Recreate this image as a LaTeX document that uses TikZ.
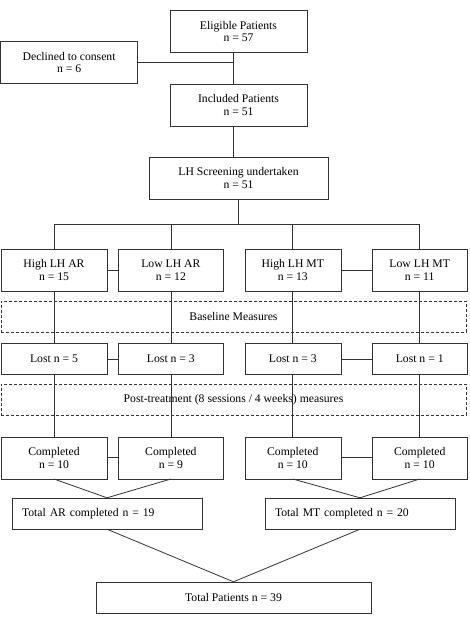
\documentclass[tikz,border=0pt]{standalone}
\usepackage{fontspec}
\setmainfont{Liberation Serif}
\usetikzlibrary{positioning}
\definecolor{FlowLine}{HTML}{333333}

\begin{document}
\begin{tikzpicture}[
    x=1pt, y=1pt,
    font=\fontsize{11.7}{12.7}\selectfont,
    stage/.style={draw=FlowLine, minimum height=42pt, align=center, inner sep=2pt},
    slim/.style={draw=FlowLine, minimum height=31pt, align=center, inner sep=2pt},
    phase/.style={draw=FlowLine, dash pattern=on 3pt off 2pt,
      minimum width=465pt, minimum height=31pt},
    link/.style={draw=FlowLine, line width=0.8pt}
  ]
    \useasboundingbox (0,0) rectangle (470,-618);
    % enrolment
    \node[stage, minimum width=137pt] (eligible) at (238.5,-31.5) {Eligible Patients\\n = 57};
    \node[stage, minimum width=137pt, left=32pt of eligible, yshift=-31pt] (declined) {Declined to consent\\n = 6};
    \node[stage, minimum width=137pt, below=31pt of eligible] (included) {Included Patients\\n = 51};
    \node[stage, minimum width=179pt, below=31pt of included] (screening) {LH Screening undertaken\\n = 51};
    \coordinate[below=25pt of screening] (bus);
    % groups
    \node[stage, minimum width=106pt] (highAR) at (54,-270) {High LH AR\\n = 15};
    \node[stage, minimum width=105pt, right=11pt of highAR] (lowAR) {Low LH AR\\n = 12};
    \node[stage, minimum width=96pt, right=21pt of lowAR] (highMT) {High LH MT\\n = 13};
    \node[stage, minimum width=95pt, right=31pt of highMT] (lowMT) {Low LH MT\\n = 11};
    \node[phase] (baseline) at (233.5,-316.5) {Baseline Measures};
    \node[slim, minimum width=106pt, below=52pt of highAR] (lostHAR) {Lost n = 5};
    \node[slim, minimum width=105pt, below=52pt of lowAR] (lostLAR) {Lost n = 3};
    \node[slim, minimum width=96pt, below=52pt of highMT] (lostHMT) {Lost n = 3};
    \node[slim, minimum width=95pt, below=52pt of lowMT] (lostLMT) {Lost n = 1};
    \node[phase] (posttreat) at (233.5,-399.5) {Post-treatment (8 sessions / 4 weeks) measures};
    \node[stage, minimum width=106pt, below=62pt of lostHAR] (doneHAR) {Completed\\n = 10};
    \node[stage, minimum width=105pt, below=62pt of lostLAR] (doneLAR) {Completed\\n = 9};
    \node[stage, minimum width=96pt, below=62pt of lostHMT] (doneHMT) {Completed\\n = 10};
    \node[stage, minimum width=95pt, below=62pt of lostLMT] (doneLMT) {Completed\\n = 10};
    % totals
    \node[slim, text width=170pt, inner xsep=10pt, align=left] (totalAR) at (107,-513.5) {Total AR completed n = 19};
    \node[slim, text width=170pt, inner xsep=10pt, align=left] (totalMT) at (360,-513.5) {Total MT completed n = 20};
    \node[slim, minimum width=275pt] (totalAll) at (233.5,-597.5) {Total Patients n = 39};
    % connectors
    \draw[link] ([xshift=-5pt]eligible.south) -- ([xshift=-5pt]included.north);
    \draw[link] (declined.east) -- ([xshift=-5pt]eligible.south |- declined.east);
    \draw[link] ([xshift=-5pt]included.south) -- ([xshift=-5pt]screening.north);
    \draw[link, line width=1.6pt] (screening.south) -- (bus);
    \draw[link] (highAR.north |- bus) -- (lowMT.north |- bus);
    \draw[link] (highAR.north) -- (highAR.north |- bus);
    \draw[link] (lowAR.north) -- (lowAR.north |- bus);
    \draw[link] (highMT.north) -- (highMT.north |- bus);
    \draw[link] (lowMT.north) -- (lowMT.north |- bus);
    \draw[link] (highAR) -- (lowAR);
    \draw[link] (highMT) -- (lowMT);
    \draw[link] (highAR.south) -- (lostHAR.north);
    \draw[link] (lowAR.south) -- (lostLAR.north);
    \draw[link] (highMT.south) -- (lostHMT.north);
    \draw[link] (lowMT.south) -- (lostLMT.north);
    \draw[link] (lostHAR) -- (lostLAR);
    \draw[link] (lostHMT) -- (lostLMT);
    \draw[link] (lostHAR.south) -- (doneHAR.north);
    \draw[link] (lostLAR.south) -- (doneLAR.north);
    \draw[link] (lostHMT.south) -- (doneHMT.north);
    \draw[link] (lostLMT.south) -- (doneLMT.north);
    \draw[link] (doneHAR) -- (doneLAR);
    \draw[link] (doneHMT) -- (doneLMT);
    \draw[link] (doneHAR.south) -- (totalAR.north);
    \draw[link] (doneLAR.south) -- (totalAR.north);
    \draw[link] (doneHMT.south) -- (totalMT.north);
    \draw[link] (doneLMT.south) -- (totalMT.north);
    \draw[link] (totalAR.south) -- (totalAll.north);
    \draw[link] (totalMT.south) -- (totalAll.north);
  \end{tikzpicture}
\end{document}
